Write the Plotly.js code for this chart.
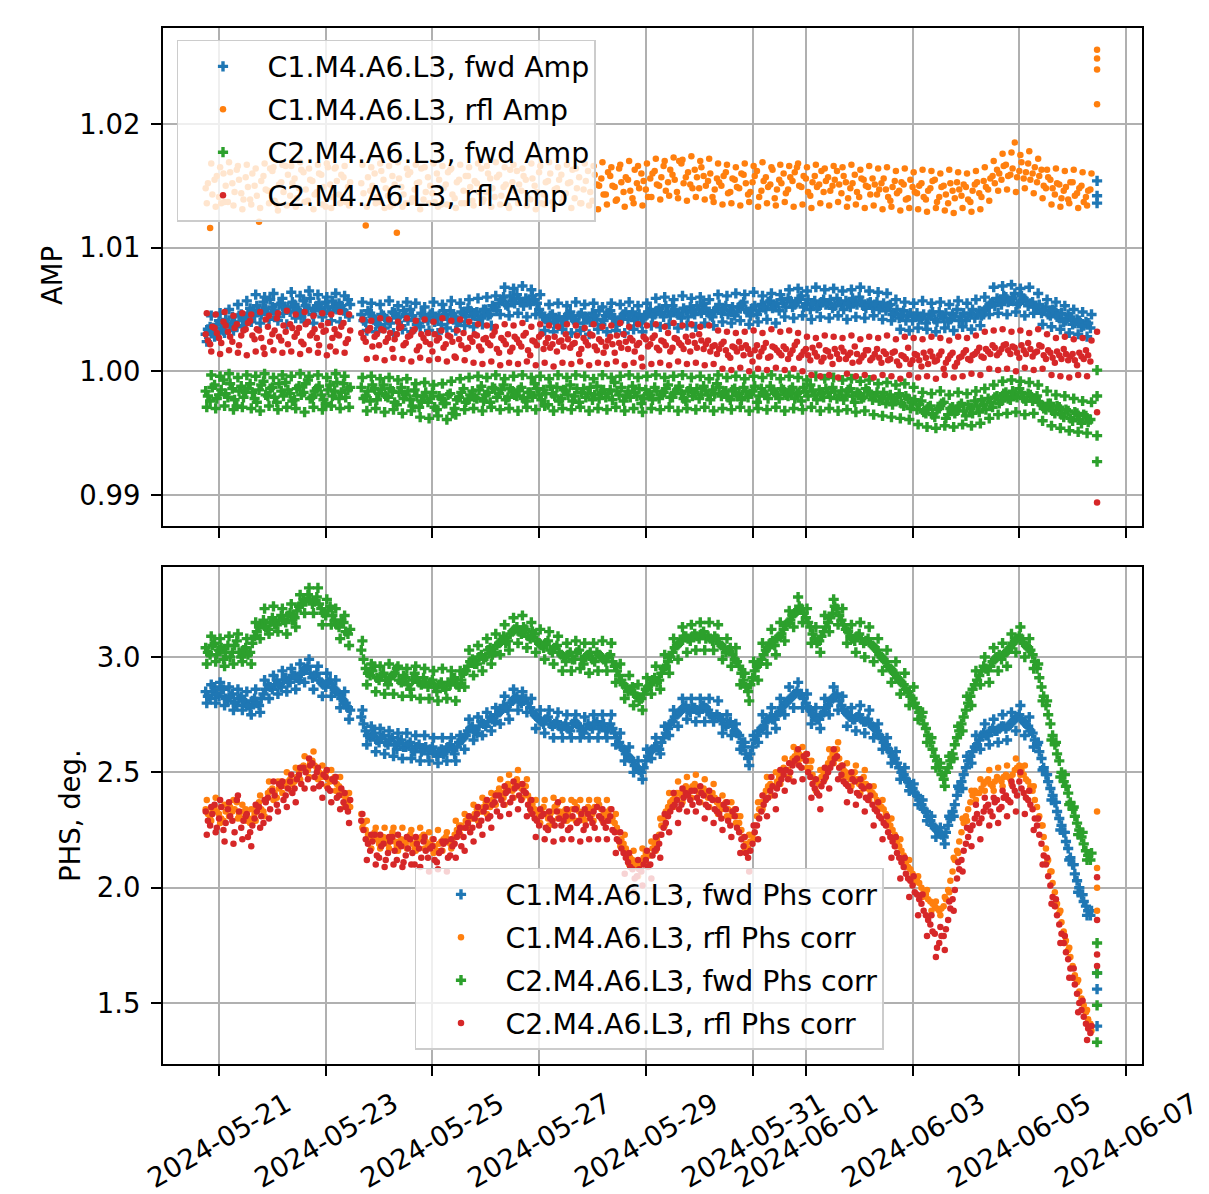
<!DOCTYPE html>
<html>
<head>
<meta charset="utf-8">
<script src="https://cdn.plot.ly/plotly-3.0.1.min.js"></script>
<style>html,body{margin:0;padding:0;background:#fff;}#chart{width:1209px;height:1194px;}</style>
</head>
<body>
<div id="chart"></div>
<script>
// ---- sampling grid: three interleaved sample sets, each every 2 h ----
const START_TIME = "2024-05-20T18:00:00Z";
const STEP_HOURS = 2;
const ODD_OFFSET_HOURS = 1;
const EDGE_OFFSET_HOURS = 0.5;
const TAIL_TIME = "2024-06-06 11:00";

const SERIES_NAMES_AMP = ["C1.M4.A6.L3, fwd Amp", "C1.M4.A6.L3, rfl Amp", "C2.M4.A6.L3, fwd Amp", "C2.M4.A6.L3, rfl Amp"];
const SERIES_NAMES_PHS = ["C1.M4.A6.L3, fwd Phs corr", "C1.M4.A6.L3, rfl Phs corr", "C2.M4.A6.L3, fwd Phs corr", "C2.M4.A6.L3, rfl Phs corr"];
const X_TICK_DATES = ["2024-05-21","2024-05-23","2024-05-25","2024-05-27","2024-05-29","2024-05-31","2024-06-01","2024-06-03","2024-06-05","2024-06-07"];
const AMP_TICKS = [0.99, 1.00, 1.01, 1.02];
const AMP_TICK_TEXT = ["0.99", "1.00", "1.01", "1.02"];
const PHS_TICKS = [1.5, 2.0, 2.5, 3.0];
const PHS_TICK_TEXT = ["1.5", "2.0", "2.5", "3.0"];

// ---- AMP values (even samples) ----
const c1FwdAmp = [
1.0030,1.0036,1.0028,1.0041,1.0033,1.0039,1.0044,1.0037,1.0046,1.0042,
1.0051,1.0045,1.0049,1.0056,1.0047,1.0052,1.0044,1.0055,1.0050,1.0048,
1.0054,1.0049,1.0057,1.0051,1.0046,1.0053,1.0050,1.0056,1.0048,1.0052,
1.0055,1.0049,1.0058,null,null,1.0046,1.0040,1.0047,1.0042,1.0038,
1.0045,1.0041,1.0048,1.0043,1.0037,1.0046,1.0050,1.0042,1.0039,1.0045,
1.0041,1.0047,1.0043,1.0038,1.0046,1.0049,1.0044,1.0040,1.0047,1.0051,
1.0045,1.0048,1.0043,1.0050,1.0046,1.0052,1.0055,1.0060,1.0053,1.0057,
1.0062,1.0056,1.0059,1.0054,1.0058,1.0050,1.0044,1.0040,1.0046,1.0042,
1.0037,1.0044,1.0048,1.0041,1.0045,1.0039,1.0043,1.0047,1.0042,1.0038,
1.0045,1.0049,1.0043,1.0040,1.0046,1.0042,1.0048,1.0044,1.0039,1.0045,
1.0050,1.0046,1.0051,1.0044,1.0048,1.0053,1.0047,1.0043,1.0049,1.0052,
1.0046,1.0050,1.0055,1.0048,1.0044,1.0051,1.0047,1.0053,1.0049,1.0045,
1.0052,1.0056,1.0048,1.0051,1.0046,1.0054,1.0050,1.0057,1.0053,1.0049,
1.0055,1.0059,1.0052,1.0056,1.0061,1.0054,1.0050,1.0057,1.0053,1.0058,
1.0055,1.0051,1.0059,1.0054,1.0057,1.0052,1.0056,1.0060,1.0053,1.0055,
1.0051,1.0056,1.0052,1.0049,1.0054,1.0047,1.0043,1.0049,1.0045,1.0041,
1.0047,1.0044,1.0039,1.0046,1.0042,1.0048,1.0043,1.0040,1.0046,1.0050,
1.0044,1.0041,1.0047,1.0043,1.0049,1.0046,1.0052,1.0056,1.0059,1.0054,
1.0060,1.0057,1.0063,1.0055,1.0059,1.0053,1.0056,1.0050,1.0047,1.0052,
1.0045,1.0049,1.0043,1.0040,1.0046,1.0038,1.0042,1.0036,1.0040,1.0035];
const c1RflAmp = [
1.0148,1.0116,1.0155,1.0141,1.0160,1.0137,1.0152,1.0163,1.0144,1.0157,
1.0139,1.0150,1.0121,1.0158,1.0146,1.0162,1.0135,1.0153,1.0166,1.0142,
1.0156,1.0148,1.0161,1.0138,1.0154,1.0145,1.0159,1.0133,1.0151,1.0164,
1.0143,1.0157,1.0149,null,null,1.0152,1.0118,1.0146,1.0160,1.0137,
1.0155,1.0142,1.0158,1.0112,1.0149,1.0136,1.0161,1.0147,1.0153,1.0139,
1.0157,1.0144,1.0160,1.0135,1.0151,1.0163,1.0140,1.0155,1.0146,1.0158,
1.0138,1.0152,1.0164,1.0145,1.0156,1.0141,1.0159,1.0149,1.0134,1.0153,
1.0162,1.0146,1.0155,1.0139,1.0150,1.0161,1.0143,1.0154,1.0137,1.0148,
1.0159,1.0144,1.0153,1.0140,1.0157,1.0147,1.0162,1.0138,1.0151,1.0156,
1.0143,1.0158,1.0149,1.0164,1.0145,1.0155,1.0140,1.0152,1.0160,1.0147,
1.0156,1.0162,1.0150,1.0166,1.0153,1.0159,1.0145,1.0168,1.0157,1.0151,
1.0163,1.0148,1.0158,1.0154,1.0141,1.0156,1.0150,1.0161,1.0145,1.0155,
1.0148,1.0159,1.0143,1.0153,1.0162,1.0146,1.0157,1.0151,1.0140,1.0155,
1.0160,1.0147,1.0154,1.0165,1.0149,1.0156,1.0142,1.0158,1.0151,1.0145,
1.0157,1.0150,1.0162,1.0144,1.0153,1.0148,1.0159,1.0141,1.0155,1.0149,
1.0156,1.0143,1.0152,1.0147,1.0138,1.0154,1.0146,1.0151,1.0140,1.0149,
1.0144,1.0152,1.0139,1.0148,1.0155,1.0141,1.0150,1.0136,1.0146,1.0153,
1.0142,1.0149,1.0137,1.0151,1.0144,1.0154,1.0147,1.0158,1.0163,1.0155,
1.0167,1.0159,1.0185,1.0162,1.0156,1.0168,1.0160,1.0153,1.0163,1.0148,
1.0155,1.0143,1.0151,1.0146,1.0139,1.0153,1.0144,1.0150,1.0141,1.0147];
const c2FwdAmp = [
0.9984,0.9976,0.9989,0.9981,0.9993,0.9979,0.9986,0.9972,0.9988,0.9983,
0.9990,0.9978,0.9985,0.9992,0.9980,0.9987,0.9975,0.9984,0.9991,0.9982,
0.9977,0.9988,0.9983,0.9993,0.9979,0.9986,0.9981,0.9974,0.9989,0.9984,
0.9978,0.9990,0.9985,null,null,0.9987,0.9980,0.9976,0.9986,0.9982,
0.9989,0.9979,0.9984,0.9973,0.9987,0.9981,0.9977,0.9985,0.9971,0.9980,
0.9975,0.9983,0.9969,0.9978,0.9974,0.9982,0.9970,0.9979,0.9986,0.9977,
0.9984,0.9978,0.9988,0.9981,0.9975,0.9986,0.9982,0.9989,0.9979,0.9984,
0.9980,0.9987,0.9976,0.9983,0.9990,0.9981,0.9985,0.9973,0.9982,0.9987,
0.9978,0.9984,0.9989,0.9980,0.9975,0.9986,0.9982,0.9977,0.9988,0.9983,
0.9979,0.9985,0.9991,0.9981,0.9976,0.9984,0.9988,0.9980,0.9974,0.9985,
0.9981,0.9987,0.9978,0.9983,0.9989,0.9979,0.9985,0.9982,0.9976,0.9986,
0.9983,0.9978,0.9988,0.9981,0.9985,0.9990,0.9980,0.9984,0.9977,0.9986,
0.9982,0.9987,0.9979,0.9984,0.9975,0.9986,0.9981,0.9988,0.9983,0.9978,
0.9985,0.9980,0.9987,0.9982,0.9976,0.9984,0.9989,0.9981,0.9985,0.9979,
0.9983,0.9987,0.9978,0.9984,0.9980,0.9986,0.9975,0.9982,0.9979,0.9984,
0.9977,0.9983,0.9980,0.9974,0.9981,0.9976,0.9982,0.9972,0.9978,0.9975,
0.9969,0.9976,0.9966,0.9972,0.9963,0.9970,0.9975,0.9965,0.9971,0.9968,
0.9974,0.9964,0.9970,0.9976,0.9967,0.9973,0.9978,0.9971,0.9980,0.9976,
0.9983,0.9977,0.9981,0.9986,0.9978,0.9982,0.9976,0.9980,0.9973,0.9969,
0.9974,0.9966,0.9971,0.9963,0.9968,0.9960,0.9966,0.9958,0.9964,0.9961];
const c2RflAmp = [
1.0030,1.0022,1.0035,1.0027,1.0040,1.0032,1.0024,1.0038,1.0029,1.0034,
1.0041,1.0026,1.0033,1.0019,1.0036,1.0030,1.0043,1.0025,1.0032,1.0038,
1.0028,1.0035,1.0022,1.0040,1.0031,1.0027,1.0037,1.0033,1.0020,1.0034,
1.0029,1.0039,1.0026,null,null,1.0031,1.0024,1.0035,1.0028,1.0021,
1.0033,1.0027,1.0018,1.0030,1.0036,1.0023,1.0029,1.0034,1.0020,1.0027,
1.0031,1.0016,1.0025,1.0033,1.0022,1.0028,1.0012,1.0026,1.0031,1.0019,
1.0024,1.0029,1.0017,1.0027,1.0021,1.0032,1.0015,1.0025,1.0030,1.0019,
1.0026,1.0020,1.0031,1.0013,1.0024,1.0028,1.0018,1.0027,1.0022,1.0016,
1.0025,1.0030,1.0019,1.0023,1.0014,1.0027,1.0021,1.0029,1.0017,1.0024,
1.0020,1.0028,1.0015,1.0023,1.0030,1.0018,1.0025,1.0021,1.0011,1.0026,
1.0022,1.0029,1.0017,1.0024,1.0031,1.0019,1.0026,1.0021,1.0028,1.0016,
1.0023,1.0030,1.0018,1.0025,1.0020,1.0014,1.0022,1.0017,1.0011,1.0019,
1.0024,1.0013,1.0018,1.0008,1.0021,1.0016,1.0023,1.0012,1.0019,1.0015,
1.0020,1.0010,1.0017,1.0024,1.0013,1.0018,1.0009,1.0015,1.0021,1.0011,
1.0016,1.0006,1.0014,1.0019,1.0010,1.0015,1.0020,1.0008,1.0013,1.0017,
1.0011,1.0018,1.0007,1.0014,1.0010,1.0016,1.0005,1.0012,1.0019,1.0009,
1.0013,1.0004,1.0011,1.0016,1.0008,1.0013,1.0002,1.0010,1.0015,1.0007,
1.0012,1.0017,1.0009,1.0014,1.0019,1.0011,1.0016,1.0021,1.0013,1.0018,
1.0022,1.0014,1.0019,1.0011,1.0017,1.0023,1.0012,1.0016,1.0020,1.0010,
1.0015,1.0007,1.0013,1.0018,1.0009,1.0014,1.0005,1.0012,1.0017,1.0008];

// ---- AMP values (odd samples, 1 h after each even sample) ----
const c1FwdAmpOdd = [
1.0034,1.0031,1.0038,1.0035,1.0042,1.0036,1.0040,1.0045,1.0041,1.0047,
1.0048,1.0053,1.0046,1.0051,1.0058,1.0049,1.0054,1.0047,1.0052,1.0056,
1.0050,1.0045,1.0053,1.0059,1.0049,1.0055,1.0047,1.0052,1.0057,1.0050,
1.0053,1.0047,1.0054,null,null,1.0041,1.0049,1.0044,1.0039,1.0046,
1.0042,1.0039,1.0047,1.0044,1.0049,1.0041,1.0045,1.0038,1.0047,1.0043,
1.0046,1.0040,1.0045,1.0049,1.0042,1.0046,1.0039,1.0048,1.0044,1.0049,
1.0047,1.0042,1.0050,1.0045,1.0053,1.0049,1.0058,1.0054,1.0061,1.0055,
1.0059,1.0053,1.0057,1.0061,1.0055,1.0047,1.0042,1.0045,1.0039,1.0044,
1.0041,1.0046,1.0043,1.0039,1.0047,1.0044,1.0040,1.0045,1.0049,1.0041,
1.0047,1.0043,1.0038,1.0044,1.0048,1.0045,1.0041,1.0046,1.0043,1.0048,
1.0044,1.0049,1.0047,1.0053,1.0045,1.0050,1.0046,1.0051,1.0044,1.0048,
1.0053,1.0047,1.0051,1.0045,1.0049,1.0054,1.0050,1.0046,1.0052,1.0048,
1.0054,1.0050,1.0045,1.0053,1.0049,1.0052,1.0056,1.0051,1.0055,1.0058,
1.0052,1.0057,1.0054,1.0059,1.0052,1.0058,1.0055,1.0051,1.0056,1.0054,
1.0058,1.0053,1.0056,1.0050,1.0055,1.0059,1.0054,1.0057,1.0051,1.0056,
1.0054,1.0050,1.0055,1.0053,1.0046,1.0050,1.0045,1.0041,1.0047,1.0044,
1.0042,1.0046,1.0043,1.0048,1.0040,1.0045,1.0047,1.0042,1.0044,1.0041,
1.0047,1.0044,1.0050,1.0046,1.0045,1.0051,1.0055,1.0053,1.0057,1.0061,
1.0056,1.0059,1.0054,1.0061,1.0057,1.0055,1.0052,1.0054,1.0049,1.0046,
1.0050,1.0044,1.0047,1.0041,1.0044,1.0039,1.0041,1.0037,1.0039];
const c1RflAmpOdd = [
1.0152,1.0143,1.0158,1.0136,1.0150,1.0161,1.0145,1.0155,1.0139,1.0149,
1.0160,1.0142,1.0154,1.0147,1.0164,1.0138,1.0151,1.0145,1.0159,1.0152,
1.0140,1.0163,1.0147,1.0155,1.0143,1.0160,1.0149,1.0165,1.0141,1.0154,
1.0159,1.0137,1.0153,null,null,1.0144,1.0157,1.0150,1.0141,1.0162,
1.0148,1.0133,1.0151,1.0156,1.0143,1.0159,1.0140,1.0152,1.0164,1.0145,
1.0150,1.0137,1.0155,1.0148,1.0161,1.0143,1.0153,1.0136,1.0158,1.0149,
1.0154,1.0145,1.0139,1.0160,1.0148,1.0157,1.0142,1.0151,1.0163,1.0146,
1.0151,1.0158,1.0140,1.0156,1.0145,1.0136,1.0153,1.0160,1.0147,1.0155,
1.0141,1.0152,1.0163,1.0148,1.0136,1.0154,1.0145,1.0159,1.0150,1.0143,
1.0161,1.0150,1.0139,1.0153,1.0157,1.0146,1.0163,1.0148,1.0154,1.0141,
1.0160,1.0151,1.0157,1.0146,1.0163,1.0155,1.0170,1.0152,1.0161,1.0148,
1.0157,1.0165,1.0150,1.0160,1.0147,1.0153,1.0158,1.0144,1.0156,1.0149,
1.0160,1.0152,1.0145,1.0158,1.0141,1.0154,1.0149,1.0163,1.0147,1.0152,
1.0144,1.0157,1.0161,1.0150,1.0158,1.0145,1.0153,1.0149,1.0162,1.0154,
1.0146,1.0155,1.0151,1.0158,1.0140,1.0152,1.0145,1.0156,1.0150,1.0143,
1.0151,1.0147,1.0156,1.0141,1.0149,1.0144,1.0153,1.0139,1.0155,1.0145,
1.0150,1.0141,1.0146,1.0154,1.0137,1.0149,1.0143,1.0152,1.0140,1.0147,
1.0151,1.0139,1.0146,1.0153,1.0141,1.0149,1.0156,1.0152,1.0160,1.0166,
1.0158,1.0164,1.0157,1.0169,1.0161,1.0155,1.0165,1.0158,1.0150,1.0157,
1.0148,1.0152,1.0140,1.0149,1.0153,1.0142,1.0148,1.0137,1.0146];
const c2FwdAmpOdd = [
0.9980,0.9987,0.9978,0.9985,0.9982,0.9990,0.9977,0.9984,0.9979,0.9986,
0.9983,0.9975,0.9989,0.9981,0.9986,0.9979,0.9990,0.9980,0.9985,0.9976,
0.9986,0.9981,0.9990,0.9978,0.9984,0.9988,0.9977,0.9985,0.9980,0.9991,
0.9983,0.9979,0.9987,null,null,0.9978,0.9984,0.9989,0.9977,0.9985,
0.9980,0.9986,0.9975,0.9983,0.9978,0.9984,0.9972,0.9980,0.9976,0.9983,
0.9978,0.9971,0.9980,0.9974,0.9981,0.9966,0.9977,0.9983,0.9975,0.9981,
0.9979,0.9985,0.9976,0.9983,0.9987,0.9979,0.9985,0.9977,0.9986,0.9981,
0.9985,0.9978,0.9983,0.9979,0.9986,0.9977,0.9982,0.9988,0.9980,0.9976,
0.9985,0.9981,0.9976,0.9986,0.9983,0.9979,0.9987,0.9981,0.9978,0.9985,
0.9982,0.9977,0.9984,0.9987,0.9980,0.9979,0.9983,0.9986,0.9978,0.9982,
0.9977,0.9984,0.9981,0.9986,0.9979,0.9983,0.9988,0.9978,0.9984,0.9980,
0.9986,0.9981,0.9984,0.9977,0.9982,0.9987,0.9983,0.9979,0.9985,0.9980,
0.9977,0.9984,0.9982,0.9988,0.9980,0.9983,0.9978,0.9985,0.9981,0.9986,
0.9981,0.9985,0.9978,0.9983,0.9987,0.9980,0.9984,0.9977,0.9982,0.9986,
0.9979,0.9984,0.9981,0.9977,0.9985,0.9980,0.9983,0.9978,0.9986,0.9981,
0.9980,0.9976,0.9983,0.9978,0.9973,0.9979,0.9974,0.9980,0.9970,0.9977,
0.9973,0.9967,0.9971,0.9965,0.9969,0.9974,0.9962,0.9970,0.9966,0.9972,
0.9968,0.9973,0.9966,0.9972,0.9977,0.9969,0.9975,0.9979,0.9974,0.9982,
0.9978,0.9984,0.9979,0.9983,0.9976,0.9981,0.9978,0.9975,0.9970,0.9974,
0.9968,0.9972,0.9965,0.9969,0.9962,0.9967,0.9961,0.9965,0.9959];
const c2RflAmpOdd = [
1.0025,1.0036,1.0031,1.0023,1.0037,1.0028,1.0035,1.0021,1.0033,1.0039,
1.0029,1.0034,1.0027,1.0042,1.0024,1.0033,1.0028,1.0037,1.0022,1.0035,
1.0031,1.0024,1.0038,1.0029,1.0034,1.0021,1.0032,1.0039,1.0027,1.0030,
1.0036,1.0023,1.0033,null,null,1.0027,1.0033,1.0020,1.0030,1.0034,
1.0024,1.0031,1.0026,1.0035,1.0021,1.0028,1.0032,1.0017,1.0030,1.0024,
1.0022,1.0030,1.0027,1.0019,1.0029,1.0024,1.0033,1.0021,1.0018,1.0027,
1.0030,1.0020,1.0026,1.0023,1.0029,1.0018,1.0027,1.0022,1.0016,1.0028,
1.0023,1.0029,1.0017,1.0025,1.0021,1.0030,1.0023,1.0019,1.0028,1.0024,
1.0020,1.0026,1.0022,1.0029,1.0018,1.0024,1.0030,1.0020,1.0026,1.0015,
1.0025,1.0022,1.0029,1.0019,1.0024,1.0027,1.0016,1.0023,1.0028,1.0020,
1.0027,1.0019,1.0025,1.0021,1.0016,1.0027,1.0023,1.0018,1.0024,1.0029,
1.0019,1.0025,1.0022,1.0016,1.0021,1.0018,1.0024,1.0013,1.0020,1.0016,
1.0019,1.0021,1.0014,1.0017,1.0012,1.0019,1.0011,1.0020,1.0017,1.0013,
1.0018,1.0014,1.0021,1.0011,1.0016,1.0013,1.0019,1.0012,1.0008,1.0017,
1.0012,1.0018,1.0010,1.0016,1.0013,1.0007,1.0014,1.0011,1.0017,1.0009,
1.0014,1.0011,1.0016,1.0009,1.0015,1.0008,1.0013,1.0010,1.0006,1.0014,
1.0009,1.0015,1.0006,1.0012,1.0009,1.0016,1.0007,1.0013,1.0004,1.0011,
1.0015,1.0010,1.0013,1.0016,1.0012,1.0018,1.0014,1.0019,1.0015,1.0021,
1.0017,1.0020,1.0015,1.0021,1.0014,1.0018,1.0015,1.0021,1.0013,1.0017,
1.0011,1.0016,1.0010,1.0014,1.0012,1.0009,1.0015,1.0010,1.0013];

// ---- AMP values (edge-of-band samples, 0.5 h after each even sample) ----
const c1FwdAmpEdge = [
1.0024,1.0045,1.0029,1.0047,1.0031,1.0050,1.0033,1.0054,1.0036,1.0057,
1.0040,1.0062,1.0039,1.0060,1.0042,1.0063,1.0041,1.0059,1.0038,1.0064,
1.0043,1.0061,1.0040,1.0065,1.0039,1.0062,1.0044,1.0060,1.0041,1.0063,
1.0040,1.0061,1.0044,null,null,1.0056,1.0033,1.0055,1.0032,1.0054,
1.0035,1.0057,1.0031,1.0053,1.0034,1.0056,1.0032,1.0055,1.0036,1.0052,
1.0033,1.0056,1.0031,1.0054,1.0035,1.0057,1.0033,1.0055,1.0037,1.0058,
1.0036,1.0059,1.0038,1.0060,1.0037,1.0061,1.0046,1.0068,1.0045,1.0067,
1.0047,1.0069,1.0044,1.0066,1.0046,1.0062,1.0033,1.0054,1.0032,1.0055,
1.0034,1.0053,1.0031,1.0056,1.0033,1.0054,1.0030,1.0055,1.0034,1.0052,
1.0032,1.0055,1.0033,1.0054,1.0031,1.0056,1.0034,1.0053,1.0032,1.0055,
1.0037,1.0059,1.0036,1.0060,1.0038,1.0058,1.0035,1.0061,1.0037,1.0059,
1.0036,1.0060,1.0039,1.0058,1.0037,1.0062,1.0040,1.0061,1.0039,1.0063,
1.0041,1.0062,1.0038,1.0064,1.0040,1.0061,1.0042,1.0063,1.0039,1.0062,
1.0044,1.0066,1.0043,1.0067,1.0045,1.0065,1.0042,1.0068,1.0044,1.0066,
1.0043,1.0067,1.0045,1.0065,1.0042,1.0066,1.0044,1.0068,1.0043,1.0065,
1.0045,1.0064,1.0042,1.0063,1.0041,1.0058,1.0034,1.0056,1.0033,1.0055,
1.0035,1.0057,1.0034,1.0055,1.0032,1.0056,1.0035,1.0054,1.0033,1.0057,
1.0036,1.0055,1.0034,1.0058,1.0037,1.0060,1.0046,1.0068,1.0047,1.0069,
1.0046,1.0070,1.0048,1.0067,1.0045,1.0068,1.0047,1.0063,1.0038,1.0058,
1.0036,1.0056,1.0034,1.0053,1.0031,1.0050,1.0030,1.0048,1.0028,1.0046];
const c1RflAmpEdge = [
1.0136,1.0168,1.0133,1.0165,1.0137,1.0169,1.0134,1.0166,1.0131,1.0167,
1.0135,1.0164,1.0132,1.0168,1.0136,1.0165,1.0130,1.0167,1.0134,1.0166,
1.0133,1.0169,1.0137,1.0164,1.0131,1.0167,1.0135,1.0168,1.0132,1.0165,
1.0136,1.0166,1.0134,null,null,1.0167,1.0133,1.0165,1.0136,1.0168,
1.0132,1.0166,1.0135,1.0169,1.0133,1.0164,1.0137,1.0167,1.0131,1.0165,
1.0136,1.0168,1.0133,1.0166,1.0135,1.0164,1.0132,1.0167,1.0136,1.0165,
1.0134,1.0168,1.0137,1.0166,1.0133,1.0169,1.0135,1.0165,1.0132,1.0167,
1.0136,1.0164,1.0134,1.0168,1.0131,1.0166,1.0135,1.0169,1.0133,1.0165,
1.0137,1.0167,1.0132,1.0164,1.0136,1.0168,1.0134,1.0166,1.0131,1.0169,
1.0135,1.0165,1.0138,1.0167,1.0133,1.0170,1.0136,1.0166,1.0134,1.0168,
1.0141,1.0172,1.0139,1.0170,1.0142,1.0173,1.0140,1.0171,1.0138,1.0174,
1.0141,1.0170,1.0139,1.0172,1.0137,1.0168,1.0135,1.0167,1.0136,1.0165,
1.0134,1.0168,1.0137,1.0166,1.0133,1.0169,1.0136,1.0165,1.0134,1.0167,
1.0137,1.0166,1.0133,1.0168,1.0135,1.0165,1.0132,1.0167,1.0136,1.0164,
1.0134,1.0166,1.0137,1.0165,1.0133,1.0167,1.0135,1.0163,1.0132,1.0166,
1.0134,1.0164,1.0131,1.0165,1.0133,1.0162,1.0130,1.0164,1.0132,1.0161,
1.0131,1.0163,1.0129,1.0162,1.0132,1.0160,1.0130,1.0163,1.0128,1.0161,
1.0132,1.0160,1.0129,1.0162,1.0131,1.0165,1.0138,1.0170,1.0146,1.0176,
1.0147,1.0177,1.0145,1.0175,1.0148,1.0178,1.0144,1.0172,1.0140,1.0163,
1.0135,1.0164,1.0133,1.0162,1.0136,1.0163,1.0132,1.0161,1.0134,1.0160];
const c2FwdAmpEdge = [
0.9971,0.9997,0.9970,0.9996,0.9972,0.9998,0.9969,0.9995,0.9971,0.9997,
0.9970,0.9996,0.9968,0.9998,0.9972,0.9995,0.9969,0.9997,0.9971,0.9996,
0.9970,0.9998,0.9967,0.9996,0.9971,0.9997,0.9969,0.9995,0.9972,0.9998,
0.9970,0.9996,0.9971,null,null,0.9995,0.9968,0.9996,0.9970,0.9994,
0.9967,0.9995,0.9969,0.9993,0.9966,0.9994,0.9968,0.9990,0.9963,0.9991,
0.9962,0.9989,0.9964,0.9990,0.9961,0.9992,0.9965,0.9994,0.9969,0.9995,
0.9970,0.9996,0.9968,0.9995,0.9971,0.9997,0.9969,0.9994,0.9970,0.9996,
0.9968,0.9997,0.9971,0.9995,0.9969,0.9996,0.9972,0.9994,0.9968,0.9997,
0.9970,0.9995,0.9969,0.9997,0.9971,0.9996,0.9968,0.9994,0.9970,0.9997,
0.9969,0.9995,0.9971,0.9996,0.9968,0.9997,0.9970,0.9995,0.9967,0.9996,
0.9970,0.9997,0.9969,0.9995,0.9971,0.9996,0.9968,0.9997,0.9970,0.9995,
0.9969,0.9996,0.9971,0.9994,0.9968,0.9997,0.9970,0.9995,0.9969,0.9996,
0.9971,0.9994,0.9968,0.9996,0.9970,0.9995,0.9969,0.9997,0.9971,0.9994,
0.9968,0.9996,0.9970,0.9995,0.9969,0.9993,0.9971,0.9996,0.9968,0.9994,
0.9970,0.9995,0.9968,0.9993,0.9969,0.9994,0.9967,0.9992,0.9968,0.9993,
0.9965,0.9990,0.9964,0.9991,0.9963,0.9989,0.9962,0.9990,0.9961,0.9987,
0.9957,0.9983,0.9955,0.9982,0.9954,0.9984,0.9956,0.9981,0.9955,0.9983,
0.9957,0.9982,0.9956,0.9984,0.9958,0.9986,0.9962,0.9989,0.9965,0.9992,
0.9966,0.9993,0.9967,0.9992,0.9965,0.9991,0.9966,0.9989,0.9960,0.9984,
0.9956,0.9981,0.9954,0.9980,0.9952,0.9978,0.9951,0.9976,0.9950,0.9975];
const c2RflAmpEdge = [
1.0047,1.0016,1.0046,1.0014,1.0048,1.0017,1.0045,1.0015,1.0047,1.0013,
1.0046,1.0016,1.0048,1.0014,1.0045,1.0017,1.0047,1.0015,1.0049,1.0016,
1.0046,1.0014,1.0048,1.0017,1.0045,1.0015,1.0047,1.0013,1.0046,1.0016,
1.0048,1.0015,1.0046,null,null,1.0042,1.0010,1.0041,1.0011,1.0043,
1.0009,1.0042,1.0011,1.0040,1.0010,1.0043,1.0008,1.0041,1.0011,1.0042,
1.0009,1.0040,1.0010,1.0043,1.0008,1.0041,1.0011,1.0042,1.0009,1.0040,
1.0007,1.0038,1.0006,1.0037,1.0008,1.0036,1.0005,1.0038,1.0007,1.0037,
1.0006,1.0039,1.0008,1.0036,1.0005,1.0038,1.0007,1.0037,1.0004,1.0036,
1.0007,1.0038,1.0006,1.0037,1.0008,1.0035,1.0005,1.0038,1.0007,1.0036,
1.0006,1.0037,1.0008,1.0039,1.0005,1.0036,1.0007,1.0038,1.0004,1.0037,
1.0006,1.0038,1.0007,1.0036,1.0005,1.0039,1.0008,1.0037,1.0006,1.0038,
1.0007,1.0036,1.0005,1.0037,1.0006,1.0033,1.0002,1.0032,1.0001,1.0031,
1.0003,1.0032,1.0000,1.0033,1.0002,1.0031,1.0001,1.0034,1.0003,1.0032,
1.0001,1.0033,1.0002,1.0031,1.0000,1.0028,0.9997,1.0027,0.9996,1.0029,
0.9997,1.0028,0.9995,1.0027,0.9998,1.0029,0.9996,1.0026,0.9997,1.0028,
0.9995,1.0027,0.9997,1.0029,0.9996,1.0026,0.9994,1.0028,0.9997,1.0027,
0.9995,1.0026,0.9996,1.0028,0.9994,1.0027,0.9997,1.0025,0.9995,1.0028,
0.9996,1.0027,0.9998,1.0029,0.9997,1.0032,1.0002,1.0033,1.0001,1.0034,
1.0002,1.0032,1.0000,1.0033,1.0003,1.0031,1.0001,1.0034,1.0002,1.0030,
0.9997,1.0027,0.9996,1.0028,0.9995,1.0026,0.9997,1.0027,0.9996,1.0025];
// isolated last readings (same timestamp)
const c1FwdAmpTail = [1.0154, 1.0142, 1.0136];
const c1RflAmpTail = [1.0260, 1.0253, 1.0244, 1.0216];
const c2FwdAmpTail = [1.0001, 0.9980, 0.9948, 0.9927];
const c2RflAmpTail = [1.0032, 0.9967, 0.9894];

// ---- PHS values (even samples) ----
const c1FwdPhs = [
2.85,2.82,2.87,2.83,2.86,2.81,2.84,2.79,2.83,2.80,
2.78,2.82,2.79,2.84,2.88,2.86,2.90,2.87,2.91,2.89,
2.92,2.90,2.94,2.96,2.91,2.93,2.89,2.87,2.90,2.86,
2.84,2.81,2.78,null,null,2.74,2.68,2.65,2.67,2.63,
2.66,2.62,2.65,2.60,2.64,2.61,2.63,2.59,2.62,2.60,
2.58,2.61,2.57,2.60,2.59,2.62,2.58,2.63,2.65,2.68,
2.70,2.67,2.72,2.70,2.74,2.72,2.76,2.79,2.77,2.81,
2.83,2.80,2.82,2.78,2.75,2.73,2.71,2.74,2.70,2.72,
2.69,2.71,2.68,2.72,2.70,2.67,2.71,2.69,2.72,2.70,
2.68,2.71,2.67,2.63,2.60,2.57,2.55,2.52,2.50,2.55,
2.59,2.61,2.60,2.65,2.69,2.72,2.75,2.77,2.79,2.76,
2.78,2.76,2.79,2.77,2.74,2.75,2.73,2.70,2.72,2.68,
2.66,2.61,2.56,2.61,2.66,2.69,2.72,2.74,2.73,2.76,
2.79,2.81,2.83,2.85,2.84,2.80,2.77,2.74,2.73,2.76,
2.79,2.82,2.84,2.79,2.76,2.74,2.73,2.75,2.72,2.73,
2.70,2.68,2.65,2.62,2.59,2.56,2.52,2.49,2.46,2.43,
2.40,2.36,2.33,2.29,2.26,2.24,2.22,2.27,2.33,2.40,
2.46,2.52,2.57,2.61,2.64,2.67,2.66,2.69,2.68,2.70,
2.69,2.71,2.73,2.75,2.72,2.70,2.67,2.62,2.56,2.49,
2.43,2.37,2.30,2.24,2.17,2.10,2.03,1.97,1.92,1.88];
const c1RflPhs = [
2.34,2.31,2.35,2.32,2.29,2.36,2.33,2.37,2.30,2.34,
2.28,2.32,2.37,2.33,2.41,2.43,2.39,2.46,2.44,2.47,
2.46,2.50,2.53,2.51,2.55,2.52,2.48,2.50,2.46,2.48,
2.44,2.40,2.37,null,null,2.32,2.25,2.21,2.24,2.19,
2.22,2.19,2.24,2.18,2.21,2.19,2.23,2.17,2.21,2.23,
2.18,2.21,2.16,2.20,2.22,2.19,2.23,2.27,2.26,2.31,
2.30,2.34,2.33,2.37,2.35,2.40,2.43,2.39,2.45,2.42,
2.47,2.43,2.44,2.38,2.34,2.31,2.35,2.30,2.33,2.36,
2.31,2.34,2.30,2.37,2.33,2.30,2.35,2.32,2.38,2.34,
2.31,2.34,2.28,2.24,2.19,2.15,2.12,2.09,2.11,2.15,
2.14,2.19,2.23,2.30,2.35,2.38,2.41,2.40,2.44,2.42,
2.45,2.41,2.43,2.39,2.41,2.37,2.34,2.37,2.31,2.34,
2.28,2.22,2.17,2.23,2.31,2.37,2.42,2.45,2.44,2.48,
2.52,2.51,2.56,2.59,2.56,2.58,2.52,2.47,2.45,2.50,
2.54,2.58,2.60,2.53,2.50,2.47,2.50,2.45,2.48,2.43,
2.41,2.38,2.35,2.32,2.27,2.23,2.18,2.14,2.09,2.06,
2.03,2.00,1.97,1.94,1.92,1.90,1.92,1.99,2.07,2.16,
2.24,2.31,2.37,2.42,2.41,2.45,2.47,2.44,2.48,2.46,
2.49,2.47,2.51,2.53,2.49,2.46,2.42,2.35,2.27,2.17,
2.07,1.98,1.89,1.81,1.73,1.66,1.59,1.52,1.46,1.41];
const c2FwdPhs = [
3.04,3.01,3.06,3.03,2.99,3.05,3.02,3.07,3.00,3.04,
3.02,3.09,3.13,3.16,3.12,3.17,3.14,3.18,3.15,3.19,
3.17,3.22,3.25,3.27,3.23,3.26,3.21,3.18,3.22,3.16,
3.13,3.15,3.10,null,null,3.03,2.95,2.92,2.96,2.90,
2.93,2.88,2.92,2.95,2.89,2.91,2.86,2.93,2.89,2.91,
2.87,2.90,2.85,2.89,2.86,2.88,2.91,2.87,2.93,2.96,
2.99,2.97,3.01,3.00,3.04,3.02,3.06,3.09,3.07,3.11,
3.13,3.10,3.12,3.08,3.10,3.06,3.04,3.07,3.02,3.05,
3.01,2.98,3.02,2.99,3.03,2.97,3.01,2.99,3.02,3.00,
2.98,3.01,2.96,2.92,2.88,2.85,2.87,2.83,2.82,2.86,
2.88,2.91,2.90,2.95,2.98,3.02,3.05,3.07,3.09,3.07,
3.10,3.08,3.11,3.09,3.07,3.08,3.05,3.02,3.04,2.99,
2.96,2.90,2.85,2.91,2.96,2.99,3.03,3.06,3.05,3.09,
3.12,3.15,3.18,3.20,3.21,3.17,3.13,3.08,3.07,3.11,
3.15,3.19,3.21,3.16,3.12,3.09,3.07,3.10,3.06,3.08,
3.05,3.03,3.00,2.98,2.95,2.93,2.90,2.88,2.85,2.82,
2.78,2.74,2.69,2.63,2.57,2.52,2.47,2.52,2.58,2.65,
2.71,2.77,2.83,2.88,2.92,2.96,2.94,2.98,3.00,2.99,
3.02,3.04,3.07,3.09,3.06,3.04,3.01,2.95,2.87,2.79,
2.71,2.62,2.55,2.46,2.41,2.34,2.28,2.22,2.16,2.12];
const c2RflPhs = [
2.33,2.27,2.36,2.30,2.25,2.34,2.29,2.38,2.26,2.31,
2.24,2.30,2.35,2.28,2.39,2.42,2.36,2.44,2.40,2.46,
2.43,2.49,2.52,2.47,2.54,2.50,2.45,2.48,2.42,2.46,
2.40,2.37,2.33,null,null,2.29,2.21,2.16,2.23,2.13,
2.19,2.15,2.22,2.12,2.18,2.14,2.21,2.10,2.17,2.20,
2.13,2.18,2.11,2.16,2.20,2.14,2.19,2.24,2.22,2.28,
2.26,2.32,2.29,2.35,2.31,2.37,2.40,2.36,2.42,2.39,
2.44,2.38,2.41,2.34,2.30,2.27,2.32,2.25,2.29,2.33,
2.27,2.31,2.26,2.34,2.29,2.25,2.32,2.28,2.35,2.30,
2.26,2.31,2.24,2.20,2.15,2.11,2.08,2.05,2.07,2.12,
2.10,2.16,2.19,2.26,2.31,2.35,2.38,2.36,2.41,2.38,
2.42,2.37,2.40,2.35,2.38,2.33,2.30,2.34,2.27,2.31,
2.24,2.18,2.13,2.19,2.27,2.33,2.38,2.42,2.40,2.45,
2.49,2.47,2.53,2.56,2.52,2.55,2.48,2.43,2.40,2.46,
2.50,2.54,2.57,2.49,2.45,2.42,2.46,2.40,2.43,2.38,
2.36,2.33,2.30,2.27,2.22,2.18,2.13,2.09,2.04,2.01,
1.97,1.93,1.88,1.84,1.80,1.76,1.79,1.86,1.95,2.04,
2.12,2.19,2.25,2.30,2.28,2.33,2.36,2.31,2.38,2.35,
2.40,2.37,2.42,2.46,2.41,2.38,2.34,2.27,2.19,2.10,
2.01,1.92,1.84,1.76,1.69,1.61,1.54,1.47,1.41,1.37];

// ---- PHS values (odd samples) ----
const c1FwdPhsOdd = [
2.83,2.85,2.84,2.86,2.82,2.83,2.80,2.82,2.81,2.79,
2.81,2.80,2.82,2.86,2.87,2.88,2.88,2.90,2.89,2.92,
2.91,2.93,2.95,2.93,2.92,2.90,2.88,2.89,2.87,2.85,
2.82,2.80,2.77,null,null,2.71,2.66,2.66,2.64,2.65,
2.63,2.64,2.62,2.63,2.61,2.62,2.60,2.61,2.59,2.61,
2.60,2.59,2.59,2.58,2.61,2.60,2.61,2.64,2.66,2.69,
2.68,2.70,2.71,2.72,2.73,2.75,2.77,2.78,2.80,2.82,
2.81,2.81,2.80,2.76,2.74,2.72,2.73,2.71,2.71,2.70,
2.70,2.69,2.71,2.71,2.68,2.69,2.70,2.71,2.69,2.71,
2.69,2.69,2.65,2.61,2.58,2.56,2.53,2.51,2.52,2.57,
2.60,2.61,2.63,2.67,2.71,2.74,2.76,2.78,2.77,2.78,
2.77,2.78,2.78,2.75,2.74,2.74,2.71,2.71,2.70,2.67,
2.63,2.58,2.58,2.64,2.68,2.70,2.73,2.73,2.75,2.78,
2.80,2.82,2.84,2.84,2.82,2.78,2.75,2.73,2.75,2.78,
2.81,2.83,2.81,2.77,2.75,2.73,2.74,2.73,2.72,2.71,
2.69,2.66,2.63,2.60,2.57,2.54,2.50,2.47,2.44,2.41,
2.38,2.34,2.31,2.27,2.25,2.23,2.24,2.30,2.36,2.43,
2.49,2.55,2.59,2.62,2.66,2.66,2.68,2.68,2.69,2.70,
2.70,2.72,2.74,2.73,2.71,2.68,2.64,2.59,2.52,2.46,
2.40,2.33,2.27,2.20,2.13,2.06,2.00,1.94,1.90];
const c1RflPhsOdd = [
2.32,2.34,2.33,2.30,2.33,2.35,2.34,2.32,2.33,2.30,
2.30,2.35,2.34,2.38,2.42,2.41,2.43,2.45,2.46,2.45,
2.48,2.52,2.52,2.54,2.53,2.50,2.49,2.47,2.47,2.45,
2.42,2.39,2.35,null,null,2.28,2.23,2.22,2.21,2.21,
2.20,2.22,2.20,2.20,2.20,2.21,2.19,2.20,2.22,2.20,
2.19,2.18,2.19,2.21,2.20,2.21,2.25,2.27,2.29,2.30,
2.32,2.33,2.35,2.36,2.38,2.41,2.41,2.42,2.43,2.45,
2.45,2.44,2.40,2.36,2.33,2.33,2.32,2.32,2.35,2.33,
2.33,2.32,2.34,2.35,2.31,2.33,2.34,2.35,2.36,2.32,
2.33,2.30,2.26,2.21,2.17,2.13,2.10,2.10,2.13,2.14,
2.17,2.21,2.27,2.33,2.37,2.40,2.41,2.42,2.43,2.44,
2.43,2.42,2.41,2.40,2.39,2.36,2.36,2.34,2.33,2.31,
2.25,2.19,2.20,2.27,2.34,2.40,2.44,2.44,2.46,2.50,
2.51,2.54,2.57,2.58,2.57,2.55,2.49,2.46,2.48,2.52,
2.56,2.59,2.56,2.51,2.48,2.49,2.47,2.46,2.45,2.42,
2.40,2.36,2.34,2.29,2.25,2.20,2.16,2.11,2.08,2.04,
2.02,1.98,1.95,1.93,1.91,1.91,1.95,2.03,2.12,2.20,
2.28,2.34,2.40,2.41,2.43,2.46,2.45,2.46,2.47,2.48,
2.48,2.49,2.52,2.51,2.47,2.44,2.38,2.31,2.22,2.12,
2.02,1.93,1.85,1.77,1.70,1.62,1.55,1.49,1.43];
const c2FwdPhsOdd = [
3.02,3.05,3.01,3.04,3.02,3.00,3.05,3.02,3.03,3.01,
3.06,3.11,3.14,3.13,3.15,3.14,3.16,3.16,3.18,3.16,
3.20,3.23,3.24,3.25,3.24,3.23,3.19,3.20,3.18,3.14,
3.16,3.11,3.12,null,null,2.99,2.93,2.94,2.91,2.92,
2.90,2.91,2.93,2.90,2.92,2.88,2.90,2.91,2.88,2.89,
2.89,2.87,2.88,2.87,2.89,2.90,2.88,2.90,2.94,2.98,
2.97,3.00,2.99,3.03,3.01,3.05,3.07,3.06,3.10,3.12,
3.11,3.13,3.09,3.11,3.07,3.05,3.06,3.03,3.04,3.02,
3.00,3.01,2.99,3.02,2.99,3.00,3.02,2.98,3.01,2.99,
3.00,2.98,2.94,2.90,2.87,2.86,2.84,2.81,2.84,2.87,
2.90,2.89,2.93,2.96,3.00,3.04,3.06,3.09,3.08,3.09,
3.09,3.10,3.08,3.08,3.09,3.06,3.04,3.03,3.01,2.98,
2.93,2.87,2.88,2.94,2.97,3.01,3.04,3.07,3.08,3.10,
3.14,3.16,3.19,3.22,3.19,3.15,3.10,3.06,3.09,3.13,
3.17,3.22,3.18,3.14,3.11,3.08,3.09,3.08,3.07,3.06,
3.04,3.01,2.99,2.96,2.94,2.91,2.89,2.86,2.83,2.80,
2.76,2.71,2.66,2.60,2.55,2.49,2.50,2.55,2.62,2.68,
2.74,2.80,2.86,2.90,2.94,2.95,2.96,2.99,3.01,3.01,
3.03,3.06,3.08,3.08,3.05,3.03,2.98,2.91,2.83,2.75,
2.66,2.58,2.50,2.44,2.37,2.31,2.25,2.19,2.14];
const c2RflPhsOdd = [
2.29,2.32,2.26,2.35,2.28,2.31,2.24,2.33,2.29,2.22,
2.27,2.33,2.31,2.37,2.34,2.40,2.45,2.38,2.43,2.41,
2.47,2.45,2.50,2.53,2.48,2.44,2.49,2.43,2.47,2.39,
2.43,2.35,2.38,null,null,2.25,2.19,2.20,2.14,2.18,
2.12,2.20,2.16,2.19,2.11,2.17,2.15,2.19,2.13,2.16,
2.17,2.12,2.15,2.19,2.13,2.18,2.22,2.18,2.26,2.24,
2.30,2.27,2.33,2.30,2.36,2.33,2.38,2.41,2.37,2.43,
2.40,2.42,2.36,2.32,2.29,2.31,2.26,2.30,2.27,2.30,
2.29,2.25,2.31,2.28,2.32,2.27,2.30,2.26,2.31,2.28,
2.29,2.25,2.21,2.17,2.13,2.09,2.04,2.08,2.10,2.09,
2.14,2.17,2.23,2.28,2.33,2.36,2.34,2.39,2.40,2.36,
2.39,2.41,2.36,2.39,2.34,2.32,2.36,2.29,2.33,2.26,
2.21,2.15,2.16,2.24,2.30,2.36,2.39,2.44,2.43,2.47,
2.51,2.50,2.55,2.53,2.57,2.50,2.45,2.41,2.44,2.48,
2.52,2.56,2.52,2.46,2.44,2.47,2.41,2.44,2.39,2.40,
2.34,2.31,2.28,2.24,2.20,2.15,2.11,2.06,2.03,1.98,
1.95,1.90,1.86,1.81,1.74,1.79,1.82,1.91,1.99,2.08,
2.16,2.22,2.27,2.32,2.30,2.35,2.33,2.37,2.34,2.39,
2.38,2.44,2.40,2.43,2.39,2.36,2.30,2.23,2.14,2.05,
1.96,1.88,1.80,1.72,1.65,1.58,1.50,1.44,1.39];

// ---- PHS values (edge-of-band samples) ----
const c1FwdPhsEdge = [
2.80,2.88,2.80,2.89,2.79,2.87,2.77,2.86,2.77,2.85,
2.75,2.86,2.76,2.90,2.82,2.92,2.84,2.94,2.85,2.95,
2.86,2.97,2.89,2.99,2.86,2.96,2.83,2.93,2.83,2.90,
2.78,2.85,2.73,null,null,2.77,2.62,2.70,2.59,2.69,
2.58,2.68,2.57,2.67,2.56,2.67,2.56,2.66,2.55,2.66,
2.55,2.65,2.54,2.65,2.55,2.65,2.55,2.66,2.60,2.73,
2.64,2.74,2.66,2.76,2.68,2.78,2.71,2.83,2.73,2.86,
2.77,2.85,2.76,2.82,2.69,2.77,2.67,2.77,2.65,2.76,
2.65,2.75,2.65,2.75,2.65,2.74,2.65,2.75,2.65,2.75,
2.65,2.75,2.62,2.67,2.55,2.61,2.50,2.55,2.47,2.60,
2.56,2.65,2.58,2.70,2.66,2.77,2.70,2.82,2.73,2.82,
2.72,2.82,2.72,2.82,2.72,2.81,2.67,2.75,2.66,2.71,
2.60,2.63,2.53,2.66,2.63,2.75,2.67,2.78,2.69,2.82,
2.75,2.87,2.78,2.89,2.78,2.84,2.71,2.78,2.69,2.82,
2.75,2.87,2.77,2.83,2.70,2.78,2.68,2.79,2.67,2.77,
2.65,2.71,2.60,2.65,2.54,2.59,2.47,2.52,2.42,2.45,
2.36,2.38,2.29,2.31,2.22,2.26,2.19,2.31,2.31,2.44,
2.43,2.57,2.54,2.66,2.60,2.71,2.62,2.73,2.63,2.75,
2.64,2.76,2.68,2.79,2.66,2.74,2.61,2.63,2.51,2.49,
2.38,2.37,2.25,2.24,2.12,2.10,1.98,1.97,1.88,1.90];
const c1RflPhsEdge = [
2.38,2.29,2.39,2.28,2.36,2.31,2.38,2.30,2.36,2.29,
2.34,2.29,2.40,2.31,2.46,2.38,2.46,2.41,2.50,2.42,
2.52,2.47,2.57,2.48,2.59,2.47,2.53,2.44,2.51,2.42,
2.48,2.35,2.41,null,null,2.26,2.29,2.17,2.26,2.17,
2.26,2.17,2.26,2.16,2.26,2.17,2.25,2.16,2.26,2.17,
2.24,2.15,2.25,2.16,2.24,2.17,2.29,2.23,2.32,2.26,
2.36,2.29,2.39,2.32,2.41,2.36,2.47,2.36,2.49,2.39,
2.51,2.39,2.47,2.33,2.38,2.28,2.38,2.27,2.39,2.30,
2.38,2.29,2.38,2.29,2.38,2.29,2.38,2.29,2.38,2.29,
2.38,2.29,2.32,2.18,2.23,2.10,2.16,2.05,2.17,2.10,
2.20,2.16,2.30,2.27,2.41,2.35,2.46,2.37,2.48,2.39,
2.49,2.37,2.47,2.35,2.45,2.32,2.40,2.31,2.37,2.28,
2.31,2.16,2.23,2.21,2.37,2.34,2.48,2.40,2.50,2.45,
2.56,2.48,2.61,2.54,2.61,2.52,2.55,2.42,2.51,2.47,
2.60,2.54,2.63,2.48,2.54,2.44,2.53,2.41,2.51,2.38,
2.44,2.34,2.38,2.27,2.30,2.18,2.21,2.09,2.12,2.02,
2.05,1.96,1.99,1.90,1.94,1.88,1.96,1.98,2.13,2.15,
2.30,2.29,2.42,2.38,2.47,2.42,2.51,2.42,2.52,2.44,
2.53,2.45,2.56,2.49,2.53,2.42,2.44,2.30,2.27,2.11,
2.07,1.92,1.90,1.76,1.74,1.61,1.60,1.47,1.47,1.38];
const c2FwdPhsEdge = [
2.97,3.09,2.98,3.08,2.96,3.09,2.97,3.10,2.98,3.08,
2.97,3.15,3.08,3.21,3.10,3.22,3.11,3.21,3.10,3.23,
3.13,3.27,3.19,3.30,3.19,3.30,3.14,3.25,3.14,3.21,
3.08,3.18,3.05,null,null,3.07,2.88,2.97,2.85,2.96,
2.84,2.97,2.84,2.96,2.83,2.95,2.83,2.96,2.82,2.95,
2.82,2.94,2.81,2.95,2.82,2.94,2.81,2.94,2.87,3.03,
2.92,3.05,2.94,3.08,2.97,3.10,3.01,3.14,3.03,3.17,
3.06,3.18,3.04,3.15,3.02,3.12,2.99,3.11,2.97,3.09,
2.94,3.06,2.94,3.07,2.95,3.06,2.93,3.06,2.94,3.07,
2.94,3.06,2.89,2.97,2.82,2.92,2.79,2.88,2.77,2.91,
2.84,2.96,2.86,3.01,2.93,3.08,2.99,3.13,3.02,3.14,
3.03,3.15,3.03,3.15,3.03,3.14,2.99,3.08,2.96,3.04,
2.88,2.93,2.81,2.98,2.90,3.06,2.97,3.12,3.01,3.15,
3.07,3.20,3.13,3.26,3.15,3.21,3.06,3.13,3.02,3.18,
3.11,3.25,3.14,3.21,3.06,3.14,3.02,3.15,3.00,3.13,
2.98,3.08,2.94,3.03,2.89,2.98,2.84,2.93,2.79,2.87,
2.73,2.76,2.63,2.65,2.52,2.54,2.44,2.57,2.56,2.70,
2.68,2.83,2.79,2.94,2.88,3.00,2.89,3.04,2.94,3.06,
2.96,3.10,3.02,3.13,3.00,3.08,2.95,2.97,2.81,2.81,
2.64,2.63,2.48,2.49,2.36,2.35,2.23,2.24,2.12,2.15];
const c2RflPhsEdge = [
2.23,2.35,2.24,2.38,2.20,2.37,2.19,2.40,2.21,2.32,
2.18,2.36,2.26,2.38,2.30,2.46,2.33,2.46,2.35,2.49,
2.37,2.52,2.43,2.56,2.43,2.52,2.39,2.51,2.37,2.48,
2.34,2.41,2.28,null,null,2.32,2.12,2.23,2.10,2.23,
2.09,2.22,2.10,2.23,2.09,2.22,2.10,2.22,2.09,2.22,
2.07,2.21,2.08,2.20,2.07,2.21,2.13,2.26,2.16,2.31,
2.20,2.35,2.23,2.38,2.26,2.40,2.31,2.44,2.32,2.46,
2.34,2.45,2.31,2.38,2.22,2.34,2.21,2.33,2.20,2.37,
2.21,2.34,2.21,2.34,2.20,2.34,2.21,2.33,2.21,2.34,
2.21,2.34,2.15,2.24,2.06,2.15,1.98,2.12,2.01,2.16,
2.04,2.22,2.13,2.32,2.24,2.41,2.28,2.43,2.33,2.42,
2.33,2.44,2.30,2.42,2.28,2.38,2.25,2.37,2.22,2.34,
2.15,2.22,2.07,2.27,2.21,2.40,2.31,2.48,2.34,2.51,
2.42,2.54,2.46,2.60,2.47,2.58,2.39,2.47,2.34,2.52,
2.43,2.60,2.47,2.53,2.37,2.50,2.36,2.47,2.33,2.44,
2.27,2.37,2.21,2.31,2.13,2.22,2.04,2.13,1.96,2.05,
1.88,1.97,1.79,1.88,1.70,1.83,1.73,1.94,1.90,2.11,
2.07,2.26,2.18,2.36,2.21,2.39,2.27,2.39,2.28,2.42,
2.31,2.46,2.33,2.50,2.32,2.42,2.25,2.30,2.10,2.13,
1.93,1.95,1.76,1.79,1.61,1.65,1.46,1.51,1.34,1.40];
const c1FwdPhsTail = [1.63, 1.56, 1.40];
const c1RflPhsTail = [2.33, 2.085, 2.00, 1.90];
const c2FwdPhsTail = [1.76, 1.63, 1.49, 1.33];
const c2RflPhsTail = [2.045, 1.86, 1.71, 1.66];

// ---- build traces ----
const COLORS = ["#1f77b4", "#ff7f0e", "#2ca02c", "#d62728"];
const FONT = "DejaVu Sans, Liberation Sans, sans-serif";
const FS = 27.5;
const LFS = 28.4;

const t0 = Date.parse(START_TIME);
const HOUR = 3600000;
function stamp(ms) { return new Date(ms).toISOString().slice(0, 16).replace("T", " "); }
function timesFor(arr, offsetHours) { return arr.map((_, i) => stamp(t0 + (offsetHours + i * STEP_HOURS) * HOUR)); }

function makeTrace(vals, odd, edge, tail, name, k, xa, ya, leg) {
  const fwd = (k % 2 === 0);
  return {
    type: "scatter", mode: "markers", name: name, legendgroup: name,
    x: timesFor(vals, 0).concat(timesFor(odd, ODD_OFFSET_HOURS), timesFor(edge, EDGE_OFFSET_HOURS), tail.map(() => TAIL_TIME)),
    y: vals.concat(odd, edge, tail),
    xaxis: xa, yaxis: ya, legend: leg,
    marker: { color: COLORS[k], size: fwd ? 8.5 : 6.5, symbol: fwd ? "cross" : "circle", line: { width: 0 } },
    hoverinfo: "x+y+name"
  };
}

const ampVals = [c1FwdAmp, c1RflAmp, c2FwdAmp, c2RflAmp];
const ampOdd = [c1FwdAmpOdd, c1RflAmpOdd, c2FwdAmpOdd, c2RflAmpOdd];
const ampEdge = [c1FwdAmpEdge, c1RflAmpEdge, c2FwdAmpEdge, c2RflAmpEdge];
const ampTails = [c1FwdAmpTail, c1RflAmpTail, c2FwdAmpTail, c2RflAmpTail];
const phsVals = [c1FwdPhs, c1RflPhs, c2FwdPhs, c2RflPhs];
const phsOdd = [c1FwdPhsOdd, c1RflPhsOdd, c2FwdPhsOdd, c2RflPhsOdd];
const phsEdge = [c1FwdPhsEdge, c1RflPhsEdge, c2FwdPhsEdge, c2RflPhsEdge];
const phsTails = [c1FwdPhsTail, c1RflPhsTail, c2FwdPhsTail, c2RflPhsTail];

const data = [];
for (let k = 0; k < 4; k++) data.push(makeTrace(ampVals[k], ampOdd[k], ampEdge[k], ampTails[k], SERIES_NAMES_AMP[k], k, "x", "y", "legend"));
for (let k = 0; k < 4; k++) data.push(makeTrace(phsVals[k], phsOdd[k], phsEdge[k], phsTails[k], SERIES_NAMES_PHS[k], k, "x2", "y2", "legend2"));

const X_RANGE = ["2024-05-19 22:48", "2024-06-07 07:13"];
const axisCommon = {
  showline: true, mirror: true, linecolor: "#000", linewidth: 2,
  ticks: "outside", ticklen: 10, tickwidth: 2, tickcolor: "#000",
  showgrid: true, gridcolor: "#b0b0b0", gridwidth: 2, zeroline: false,
  tickfont: { family: FONT, size: FS, color: "#000" }
};
const xCommon = Object.assign({}, axisCommon, {
  type: "date", range: X_RANGE, tickmode: "array", tickvals: X_TICK_DATES, showticklabels: false
});
const yCommon = Object.assign({}, axisCommon, { ticklabelstandoff: 5, tickmode: "array" });

const legendCommon = {
  font: { family: FONT, size: LFS, color: "#000" },
  bgcolor: "rgba(255,255,255,0.8)", bordercolor: "#cccccc", borderwidth: 1.5,
  itemwidth: 79, xanchor: "left", yanchor: "top", tracegroupgap: 3, traceorder: "grouped"
};

const annotations = X_TICK_DATES.map(d => ({
  text: d, xref: "x2", yref: "paper", x: d, y: -0.0734,
  textangle: -30, showarrow: false, xanchor: "center", yanchor: "middle",
  font: { family: FONT, size: FS, color: "#000" }
}));
annotations.push({ text: "AMP", xref: "paper", yref: "paper", x: -0.1134, y: 0.7616, textangle: -90, showarrow: false,
  xanchor: "center", yanchor: "middle", font: { family: FONT, size: FS, color: "#000" } });
annotations.push({ text: "PHS, deg.", xref: "paper", yref: "paper", x: -0.095, y: 0.2403, textangle: -90, showarrow: false,
  xanchor: "center", yanchor: "middle", font: { family: FONT, size: FS, color: "#000" } });

const layout = {
  width: 1209, height: 1194,
  margin: { l: 163, r: 67, t: 28, b: 130 },
  paper_bgcolor: "#fff", plot_bgcolor: "#fff",
  font: { family: FONT, size: FS, color: "#000" },
  showlegend: true,
  xaxis: Object.assign({}, xCommon, { domain: [0, 1], anchor: "y" }),
  xaxis2: Object.assign({}, xCommon, { domain: [0, 1], anchor: "y2", matches: "x" }),
  yaxis: Object.assign({}, yCommon, { domain: [0.5193, 1], anchor: "x", range: [0.987493, 1.027763],
    tickvals: AMP_TICKS, ticktext: AMP_TICK_TEXT }),
  yaxis2: Object.assign({}, yCommon, { domain: [0, 0.4797], anchor: "x2", range: [1.2356, 3.3902],
    tickvals: PHS_TICKS, ticktext: PHS_TICK_TEXT }),
  legend: Object.assign({}, legendCommon, { x: 0.0143, y: 0.9885 }),
  legend2: Object.assign({}, legendCommon, { x: 0.2574, y: 0.1893 }),
  annotations: annotations
};

Plotly.newPlot("chart", data, layout, { displayModeBar: false, staticPlot: true });
</script>
</body>
</html>
